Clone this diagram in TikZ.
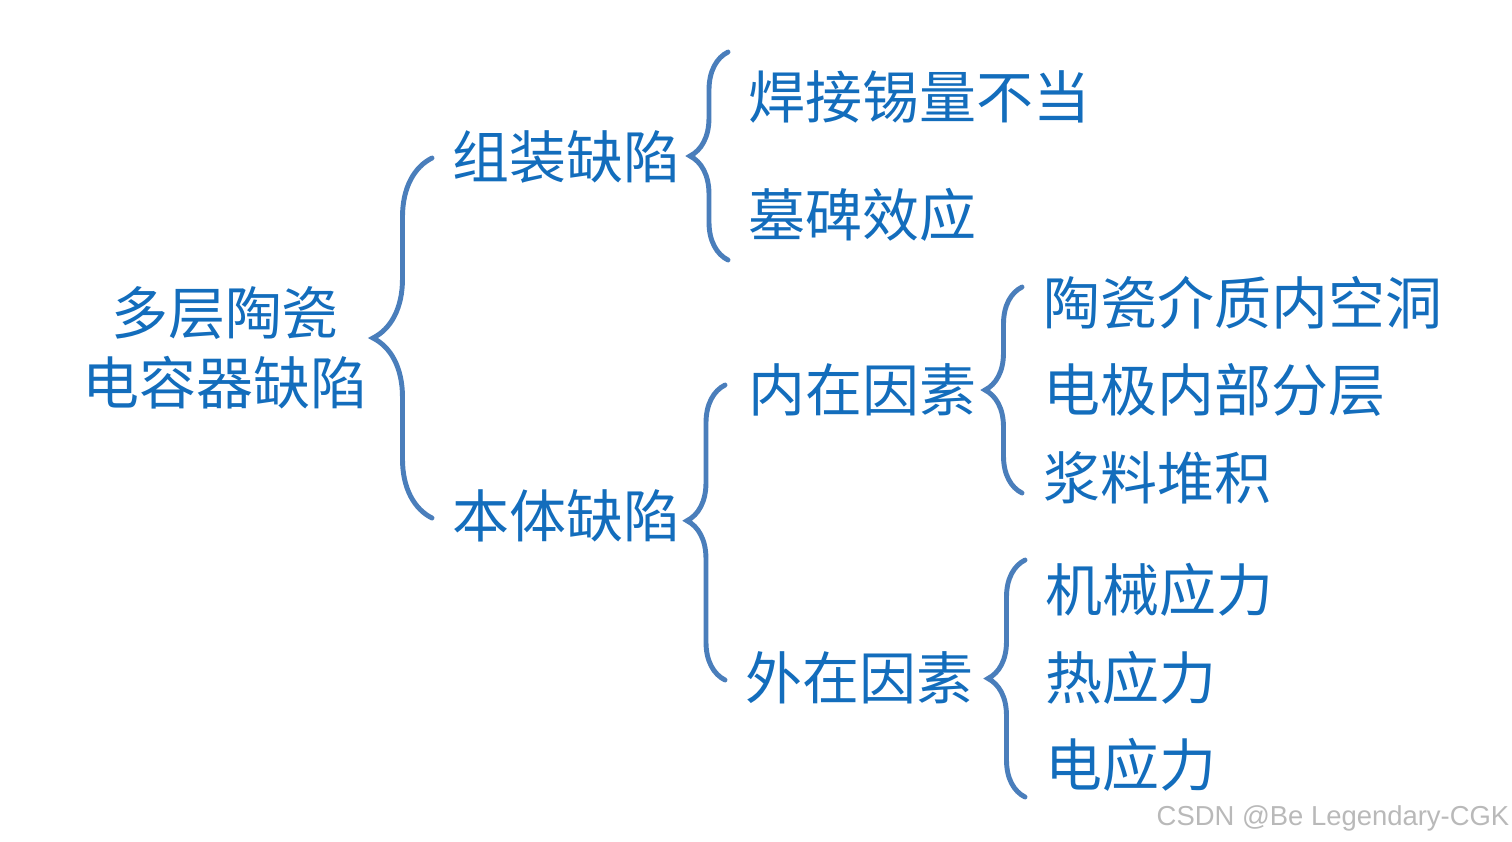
\documentclass[tikz,border=0pt]{standalone}
\usepackage{fontspec}
\usepackage{tikz}
\usetikzlibrary{decorations.pathreplacing}
\newfontfamily\cjk{Noto Sans CJK SC}
\setsansfont{Liberation Sans}
\definecolor{txtblue}{HTML}{136DBC}
\definecolor{bracecol}{HTML}{4A7EBB}

\begin{document}
\begin{tikzpicture}[x=0.01cm,y=-0.01cm,
  bracket/.style={decorate,decoration={brace,amplitude=#1},draw=bracecol,line width=1.4pt,line cap=round},
  item/.style={anchor=west,inner sep=0pt,text=txtblue,font=\cjk\fontsize{16.2pt}{19.8pt}\selectfont}]
\useasboundingbox (0,0) rectangle (1512,841);
\coordinate (b1t) at (432,158);
\coordinate (b1b) at (432,518);
\coordinate (b2t) at (728,52);
\coordinate (b2b) at (728,260);
\coordinate (b3t) at (725,385);
\coordinate (b3b) at (725,680);
\coordinate (b4t) at (1022,287);
\coordinate (b4b) at (1022,493);
\coordinate (b5t) at (1025,560);
\coordinate (b5b) at (1025,797);
\node[item,anchor=center,align=center] (root) at (225,348) {多层陶瓷\\电容器缺陷};
\node[item] (zz) at (452,157) {组装缺陷};
\node[item] (bt) at (452,516) {本体缺陷};
\node[item] (hj) at (748,97) {焊接锡量不当};
\node[item] (mb) at (748,215) {墓碑效应};
\node[item] (nz) at (748,390) {内在因素};
\node[item] (wz) at (745,678) {外在因素};
\node[item] (tc) at (1043,303) {陶瓷介质内空洞};
\node[item] (dj) at (1043,390) {电极内部分层};
\node[item] (jl) at (1043,478) {浆料堆积};
\node[item] (jx) at (1045,590) {机械应力};
\node[item] (ry) at (1045,678) {热应力};
\node[item] (dy) at (1045,765) {电应力};
\draw[bracket=0.59cm] (b1b) -- (b1t);
\draw[bracket=0.38cm] (b2b) -- (b2t);
\draw[bracket=0.38cm,decoration={aspect=0.54}] (b3b) -- (b3t);
\draw[bracket=0.37cm] (b4b) -- (b4t);
\draw[bracket=0.37cm] (b5b) -- (b5t);
\node[anchor=east,inner sep=0pt,text=gray!55,font=\sffamily\fontsize{7.8pt}{9pt}\selectfont] (wm) at (1510,818) {CSDN @Be Legendary-CGK};
\end{tikzpicture}
\end{document}
